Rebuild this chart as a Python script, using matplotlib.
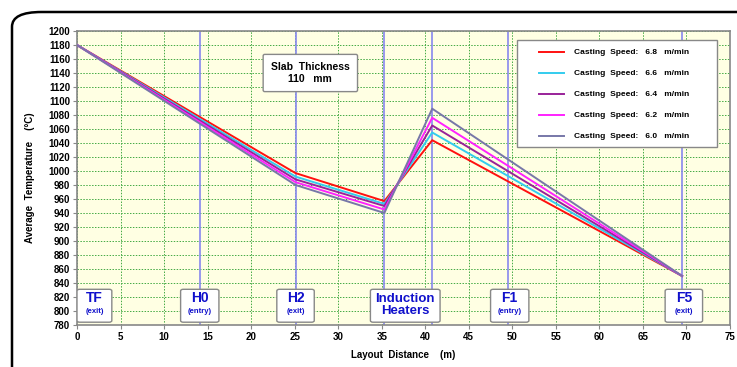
import matplotlib
matplotlib.use("Agg")
import matplotlib.pyplot as plt
from matplotlib.patches import FancyBboxPatch, Rectangle

plt.rcParams['font.family'] = ['Liberation Sans', 'DejaVu Sans']

# data
dist = [0, 25.1, 35.3, 40.8, 69.5]
speeds = ['6.8', '6.6', '6.4', '6.2', '6.0']
temp_68 = [1180, 997, 957, 1044, 850]
temp_66 = [1180, 992, 953, 1055, 850]
temp_64 = [1180, 988, 950, 1065, 850]
temp_62 = [1180, 984, 945, 1076, 850]
temp_60 = [1180, 980, 940, 1089, 850]
colors = ['#ff1010', '#33ccee', '#992299', '#ff22ff', '#7777a8']

stations = [14.1, 25.1, 35.3, 40.8, 49.5, 69.5]
tags = [('TF', '(exit)', 2.0, 4.0), ('H0', '(entry)', 14.1, 4.4), ('H2', '(exit)', 25.1, 4.3),
        ('Induction\nHeaters', None, 37.7, 8.0), ('F1', '(entry)', 49.7, 4.4), ('F5', '(exit)', 69.7, 4.3)]

fig = plt.figure(figsize=(7.37, 3.67), dpi=100)
fig.patch.set_facecolor('white')

# rounded outer frame (cropped at right and bottom like the source)
frame = FancyBboxPatch((12/737, -0.2), 1.1, 1.2 - 12/367,
                       boxstyle='round,pad=0,rounding_size=0.04',
                       transform=fig.transFigure, fill=False, ec='black', lw=1.8,
                       clip_on=False)
fig.patches.append(frame)

ax = fig.add_axes([77/737, 1 - 325/367, 653/737, 294/367])
ax.set_facecolor('#ffffe3')
ax.set_xlim(0, 75)
ax.set_ylim(780, 1200)
ax.set_xticks(range(0, 76, 5))
ax.set_yticks(range(780, 1201, 20))
ax.grid(True, color='#44aa44', ls=(0, (1.5, 1.5)), lw=0.7)
ax.set_axisbelow(True)
for s in ax.spines.values():
    s.set_color('#888888')
    s.set_linewidth(1.2)
ax.tick_params(labelsize=7, length=3, color='#888888', pad=2)
for lab in ax.get_xticklabels() + ax.get_yticklabels():
    lab.set_fontweight('bold')

for x in stations:
    ax.axvline(x, color='#8888ee', lw=1.2, zorder=1)

series = [temp_68, temp_66, temp_64, temp_62, temp_60]
for sp, vals, c in zip(speeds, series, colors):
    ax.plot(dist, vals, color=c, lw=1.4, zorder=3,
            label=f'Casting  Speed:   {sp}   m/min')

# legend box drawn by hand, entries placed inside it
ax.add_patch(Rectangle((0.674, 0.605), 0.306, 0.364, transform=ax.transAxes,
                       fc='white', ec='#888888', lw=1.0, zorder=7))
leg = ax.legend(loc='upper left', bbox_to_anchor=(0.707, 0.94), frameon=False,
                prop={'weight': 'bold', 'size': 6}, handlelength=3.0,
                labelspacing=1.58, borderpad=0, borderaxespad=0, handletextpad=1.2)
leg.set_zorder(8)

ax.text(26.8, 1140, 'Slab  Thickness\n110   mm', ha='center', va='center',
        fontsize=7.5, fontweight='bold', linespacing=1.2, zorder=5,
        bbox=dict(boxstyle='round,pad=0.75,rounding_size=0.15', fc='white', ec='#888888', lw=1))

for main, sub, x, w in tags:
    if sub:
        ax.text(x, 819, main, ha='center', va='center', fontsize=10, fontweight='bold',
                color='#1010cc', zorder=6)
        ax.text(x, 799, sub, ha='center', va='center', fontsize=5.5, fontweight='bold',
                color='#1010cc', zorder=6)
    else:
        ax.text(x, 808, main, ha='center', va='center', fontsize=9.5, fontweight='bold',
                color='#1010cc', zorder=6, linespacing=1.0)
    ax.add_patch(FancyBboxPatch((x - w / 2, 784), w, 47,
                                boxstyle='round,pad=0,rounding_size=0.3', fc='white',
                                ec='#888888', lw=1, zorder=5, mutation_aspect=8))

ax.set_xlabel('Layout  Distance    (m)', fontsize=7, fontweight='bold', labelpad=6)
ax.set_ylabel('Average  Temperature    (°C)', fontsize=7, fontweight='bold', labelpad=10)

fig.savefig('out.png', dpi=100)
